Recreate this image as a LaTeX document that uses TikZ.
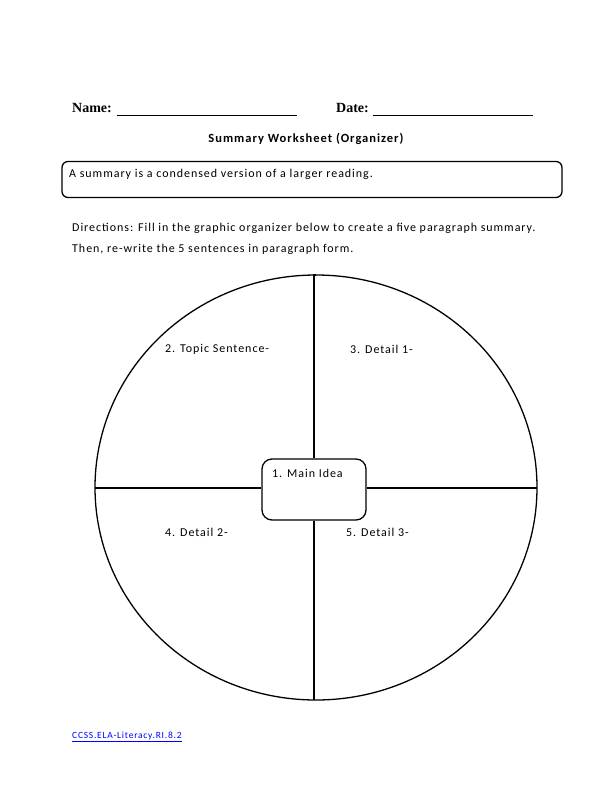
\documentclass[tikz,border=0pt]{standalone}
\usepackage{fontspec}
\setmainfont{Carlito}[LetterSpace=8]
\newfontfamily\headfont{Liberation Serif}
\usetikzlibrary{positioning, calc}
\definecolor{linkblue}{RGB}{0, 0, 255}

\begin{document}
\begin{tikzpicture}[
  x=1pt, y=-1pt,
  head/.style={font=\headfont\bfseries\fontsize{14}{16}\selectfont, inner sep=0pt, anchor=west},
  body/.style={font=\fontsize{12}{14}\selectfont, inner sep=0pt, anchor=west},
  part/.style={line width=1.3pt},
  ideabox/.style={draw, line width=1.3pt, rounded corners=10pt, minimum width=104pt, minimum height=61pt, inner sep=0pt}
]
  \useasboundingbox (0,0) rectangle (612,792);

  % Name and date
  \node[head] (name) at (72,108) {Name:};
  \node[head] (date) at (336,108) {Date:};
  \coordinate (nameend) at (297,115);
  \coordinate (dateend) at (533,115);
  \draw[line width=0.6pt] (name.east |- nameend) ++(5,0) -- (nameend);
  \draw[line width=0.6pt] (date.east |- dateend) ++(4,0) -- (dateend);

  % Title and definition box
  \node[body, font=\bfseries\fontsize{12.5}{15}\selectfont, anchor=center] (title) at (306,139) {Summary Worksheet (Organizer)};
  \node[draw, line width=1.3pt, rounded corners=6pt, minimum width=500pt, minimum height=36pt] (defbox) at (312,179.5) {};
  \node[body] (deftext) at (69,174) {A summary is a condensed version of a larger reading.};

  % Directions
  \node[body] (dir1) at (72,228) {Directions: Fill in the graphic organizer below to create a five paragraph summary.};
  \node[body, below=11pt of dir1.south west, anchor=north west] (dir2) {Then, re-write the 5 sentences in paragraph form.};

  % Organizer
  \draw[part] (316,487.5) ellipse [x radius=221, y radius=212.5];
  \coordinate (top) at (316,275);
  \coordinate (bottom) at (316,700);
  \coordinate (left) at (95,488);
  \coordinate (right) at (537,488);
  \node[ideabox] (idea) at (314,489.5) {};
  \node[body] (idealabel) at (272,473) {1. Main Idea};
  \draw[part] (top) -- (top -| idea.north) -- (idea.north);
  \draw[part] (idea.south) -- (bottom -| idea.south);
  \draw[part] (left) -- (left -| idea.west);
  \draw[part] (idea.east |- right) -- (right);

  % Parts
  \node[body] (topic) at (165,349) {2. Topic Sentence-};
  \node[body] (detail1) at (350,349) {3. Detail 1-};
  \node[body] (detail2) at (165,532) {4. Detail 2-};
  \node[body] (detail3) at (346,532) {5. Detail 3-};

  % Standard
  \node[body, font=\fontsize{9.5}{11}\selectfont, text=linkblue] (standard) at (72,737) {\underline{CCSS.ELA-Literacy.RI.8.2}};
\end{tikzpicture}
\end{document}
